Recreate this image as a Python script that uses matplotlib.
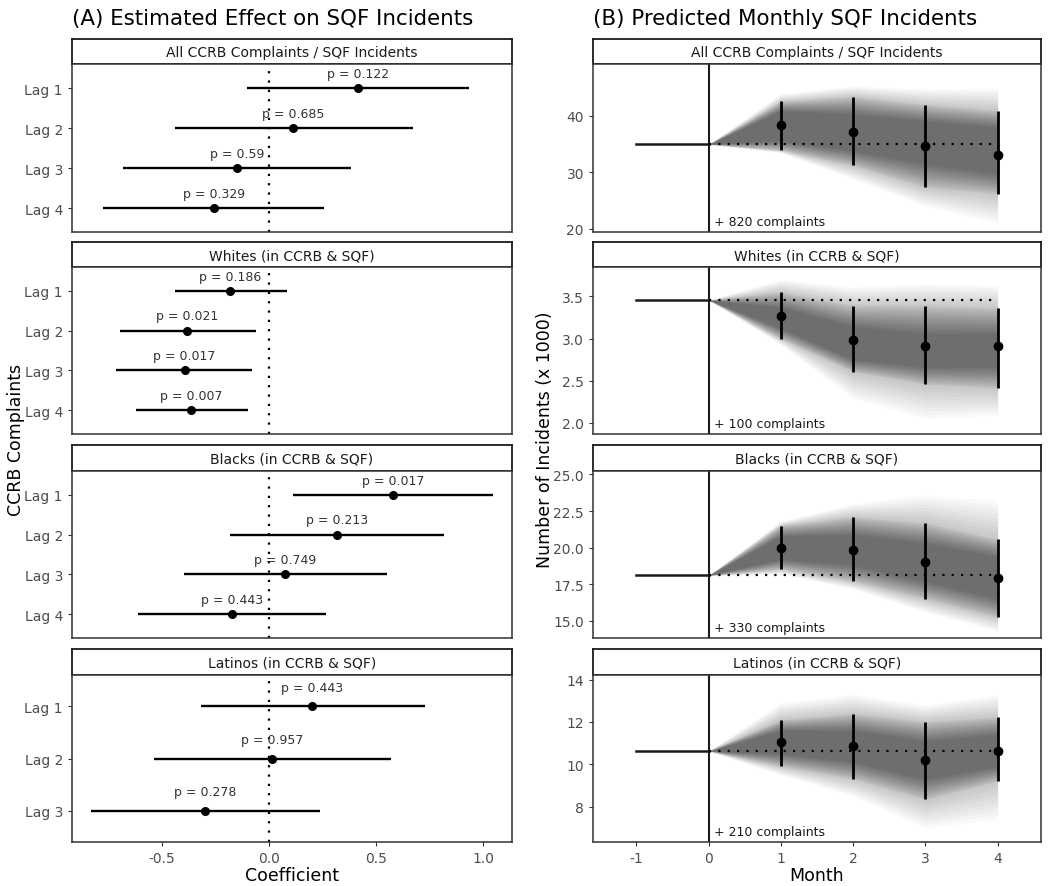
import matplotlib
matplotlib.use("Agg")
import matplotlib.pyplot as plt
import matplotlib.transforms as mtransforms
import numpy as np

plt.rcParams['font.family'] = ['DejaVu Sans']

groups = ["All CCRB Complaints / SQF Incidents", "Whites (in CCRB & SQF)",
          "Blacks (in CCRB & SQF)", "Latinos (in CCRB & SQF)"]

# (A) coefficients per lag
all_est = [0.414, 0.114, -0.148, -0.258]
all_lo = [-0.105, -0.4375, -0.68, -0.773]
all_hi = [0.934, 0.672, 0.384, 0.258]
all_p = ["0.122", "0.685", "0.59", "0.329"]

wht_est = [-0.18, -0.381, -0.394, -0.3625]
wht_lo = [-0.44, -0.698, -0.714, -0.623]
wht_hi = [0.083, -0.0625, -0.077, -0.10]
wht_p = ["0.186", "0.021", "0.017", "0.007"]

blk_est = [0.58, 0.32, 0.077, -0.173]
blk_lo = [0.111, -0.183, -0.398, -0.614]
blk_hi = [1.045, 0.817, 0.552, 0.267]
blk_p = ["0.017", "0.213", "0.749", "0.443"]

lat_est = [0.203, 0.016, -0.297]
lat_lo = [-0.316, -0.5375, -0.83]
lat_hi = [0.727, 0.570, 0.236]
lat_p = ["0.443", "0.957", "0.278"]

# (B) predicted monthly incidents (x 1000)
months = [1, 2, 3, 4]
all_base = 34.95
all_pred = [38.34, 37.2, 34.7, 33.1]
all_pred_lo = [33.95, 31.2, 27.4, 26.2]
all_pred_hi = [42.55, 43.4, 41.96, 40.95]
all_env_lo = [33.5, 28.8, 24.0, 21.0]
all_env_hi = [43.9, 45.3, 44.8, 44.9]
all_core_lo = [35.6, 33.8, 31.5, 29.7]
all_core_hi = [40.9, 40.3, 39.1, 38.0]

wht_base = 3.456
wht_pred = [3.268, 2.988, 2.908, 2.908]
wht_pred_lo = [3.0, 2.608, 2.46, 2.416]
wht_pred_hi = [3.548, 3.388, 3.388, 3.36]
wht_env_lo = [2.93, 2.29, 2.05, 2.09]
wht_env_hi = [3.70, 3.61, 3.65, 3.63]
wht_core_lo = [3.12, 2.75, 2.66, 2.66]
wht_core_hi = [3.37, 3.14, 3.06, 3.06]

blk_base = 18.11
blk_pred = [20.0, 19.82, 19.0, 17.95]
blk_pred_lo = [18.55, 17.73, 16.52, 15.27]
blk_pred_hi = [21.5, 22.09, 21.68, 20.57]
blk_env_lo = [18.2, 17.2, 15.6, 14.3]
blk_env_hi = [21.8, 23.0, 23.6, 23.2]
blk_core_lo = [19.2, 18.8, 17.7, 16.5]
blk_core_hi = [20.8, 20.9, 20.3, 19.4]

lat_base = 10.63
lat_pred = [11.07, 10.85, 10.22, 10.64]
lat_pred_lo = [9.92, 9.32, 8.35, 9.21]
lat_pred_hi = [12.1, 12.39, 12.0, 12.23]
lat_env_lo = [9.5, 8.5, 7.0, 7.4]
lat_env_hi = [12.9, 13.3, 12.8, 13.3]
lat_core_lo = [10.5, 10.1, 9.3, 9.9]
lat_core_hi = [11.6, 11.6, 11.1, 11.4]

complaints = ["+ 820 complaints", "+ 100 complaints", "+ 330 complaints", "+ 210 complaints"]

coef_sets = [(all_est, all_lo, all_hi, all_p), (wht_est, wht_lo, wht_hi, wht_p),
             (blk_est, blk_lo, blk_hi, blk_p), (lat_est, lat_lo, lat_hi, lat_p)]
pred_sets = [
    (all_base, all_pred, all_pred_lo, all_pred_hi, all_env_lo, all_env_hi, all_core_lo, all_core_hi),
    (wht_base, wht_pred, wht_pred_lo, wht_pred_hi, wht_env_lo, wht_env_hi, wht_core_lo, wht_core_hi),
    (blk_base, blk_pred, blk_pred_lo, blk_pred_hi, blk_env_lo, blk_env_hi, blk_core_lo, blk_core_hi),
    (lat_base, lat_pred, lat_pred_lo, lat_pred_hi, lat_env_lo, lat_env_hi, lat_core_lo, lat_core_hi),
]
y_limits = [(19.4, 49.2), (1.868, 3.848), (13.84, 25.23), (6.33, 14.22)]
y_ticks = [[20, 30, 40], [2.0, 2.5, 3.0, 3.5], [15.0, 17.5, 20.0, 22.5, 25.0], [8, 10, 12, 14]]
y_fmt = ["{:.0f}", "{:.1f}", "{:.1f}", "{:.0f}"]

W, H = 1049, 887
fig = plt.figure(figsize=(W / 100, H / 100), dpi=100)

# pixel layout: (strip top, strip bottom, panel bottom)
rows = [(40, 65, 233), (243, 268, 435), (446, 472, 639), (650, 676, 843)]
cols = [(72, 512), (593, 1041)]

tick_col = "#4d4d4d"


def make_axes(x0, x1, y0, y1):
    return fig.add_axes([x0 / W, 1 - y1 / H, (x1 - x0) / W, (y1 - y0) / H])


def strip(x0, x1, top, bot, label):
    s = make_axes(x0, x1, top, bot)
    s.set_xticks([])
    s.set_yticks([])
    for sp in s.spines.values():
        sp.set_color("#1a1a1a")
        sp.set_linewidth(1.3)
    s.text(0.5, 0.48, label, ha="center", va="center", fontsize=10, color="#1a1a1a",
           transform=s.transAxes)


def style(ax):
    for sp in ax.spines.values():
        sp.set_color("#333333")
        sp.set_linewidth(1.1)
    ax.tick_params(axis="both", colors="#333333", labelcolor=tick_col, labelsize=10,
                   length=3, width=0.8)


def shade(ax, x, outer_lo, outer_hi, inner_lo, inner_hi, steps, alpha):
    # soft edge: stack thin translucent bands from the outer bounds to the inner ones
    outer_lo, outer_hi = np.array(outer_lo), np.array(outer_hi)
    inner_lo, inner_hi = np.array(inner_lo), np.array(inner_hi)
    for t in np.linspace(0, 1, steps):
        ax.fill_between(x, outer_lo + t * (inner_lo - outer_lo), outer_hi + t * (inner_hi - outer_hi),
                        color="black", alpha=alpha, lw=0)


for i, (top, sbot, pbot) in enumerate(rows):
    # ---- left: coefficient plot
    est, lo, hi, pv = coef_sets[i]
    x0, x1 = cols[0]
    strip(x0, x1, top, sbot, groups[i])
    ax = make_axes(x0, x1, sbot, pbot)
    n = len(est)
    lags = list(range(1, n + 1))
    ax.axvline(0, color="black", lw=1.6, ls=(0, (1, 3.2)), zorder=1)
    ax.hlines(lags, lo, hi, color="black", lw=1.7, zorder=2)
    ax.plot(est, lags, "o", color="black", ms=5.5, zorder=3)
    for k in range(n):
        ax.text(est[k], lags[k] - 0.37, "p = " + pv[k], ha="center", va="center",
                fontsize=9, color="#333333")
    ax.set_xlim(-0.92, 1.135)
    ax.set_ylim(n + 0.6, 0.4)
    ax.set_yticks(lags)
    ax.set_yticklabels(["Lag %d" % l for l in lags])
    ax.set_xticks([-0.5, 0.0, 0.5, 1.0])
    style(ax)
    if i == 3:
        ax.set_xticklabels(["-0.5", "0.0", "0.5", "1.0"])
        ax.set_xlabel("Coefficient", fontsize=12.5, labelpad=1)
    else:
        ax.tick_params(axis="x", length=0, labelbottom=False)

    # ---- right: predicted incidents
    base, pred, plo, phi, elo, ehi, clo, chi = pred_sets[i]
    x0, x1 = cols[1]
    strip(x0, x1, top, sbot, groups[i])
    ax = make_axes(x0, x1, sbot, pbot)
    mx = [0] + months
    shade(ax, mx, [base] + elo, [base] + ehi, [base] + plo, [base] + phi, 10, 0.025)
    shade(ax, mx, [base] + plo, [base] + phi, [base] + clo, [base] + chi, 12, 0.045)
    ax.axvline(0, color="#1a1a1a", lw=1.5, zorder=2)
    ax.plot([-1, 0], [base, base], color="#1a1a1a", lw=1.8, zorder=3)
    ax.plot([0, 4], [base, base], color="black", lw=1.6, ls=(0, (1, 3.2)), zorder=3)
    ax.vlines(months, plo, phi, color="black", lw=2.0, zorder=4)
    ax.plot(months, pred, "o", color="black", ms=6, zorder=5)
    tr = mtransforms.blended_transform_factory(ax.transData, ax.transAxes)
    ax.text(0.07, 0.065, complaints[i], transform=tr, ha="left", va="center",
            fontsize=9, color="#1a1a1a")
    ax.set_xlim(-1.6, 4.6)
    ax.set_ylim(*y_limits[i])
    ax.set_yticks(y_ticks[i])
    ax.set_yticklabels([y_fmt[i].format(v) for v in y_ticks[i]])
    ax.set_xticks([-1, 0, 1, 2, 3, 4])
    style(ax)
    if i == 3:
        ax.set_xticklabels(["-1", "0", "1", "2", "3", "4"])
        ax.set_xlabel("Month", fontsize=12.5, labelpad=1)
    else:
        ax.tick_params(axis="x", length=0, labelbottom=False)

fig.text(72 / W, 1 - 19 / H, "(A) Estimated Effect on SQF Incidents", fontsize=15.4,
         ha="left", va="center")
fig.text(593 / W, 1 - 19 / H, "(B) Predicted Monthly SQF Incidents", fontsize=15.4,
         ha="left", va="center")
fig.text(16 / W, 1 - 440 / H, "CCRB Complaints", fontsize=12.5, rotation=90,
         ha="center", va="center")
fig.text(545 / W, 1 - 440 / H, "Number of Incidents (x 1000)", fontsize=12.5, rotation=90,
         ha="center", va="center")

fig.savefig("out.png", dpi=100)
